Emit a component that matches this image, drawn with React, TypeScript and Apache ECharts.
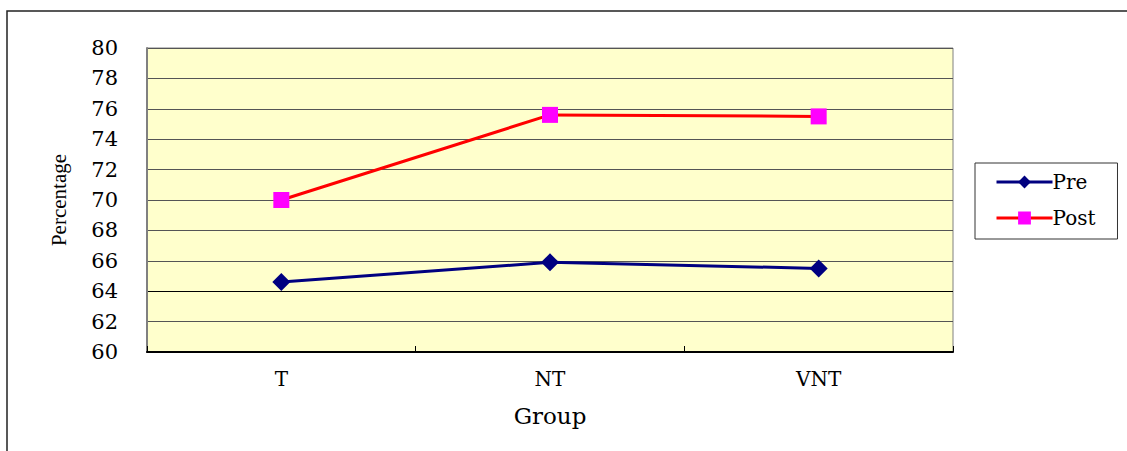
import React, { useEffect, useRef } from "react";
import * as echarts from "echarts";

const categories = ["T", "NT", "VNT"];
const preValues = [64.6, 65.9, 65.5];
const postValues = [70.0, 75.6, 75.5];
const yTicks = [60, 62, 64, 66, 68, 70, 72, 74, 76, 78, 80];

const SERIF_WIDE = "DejaVu Serif";
const SERIF = "Liberation Serif";

export default function App() {
  const ref = useRef<HTMLDivElement>(null);
  useEffect(() => {
    if (!ref.current) return;
    const chart = echarts.init(ref.current, null, { renderer: "svg" });
    const gridColors = yTicks.map((v) => (v === 64 ? "#000000" : "#555555"));
    chart.setOption({
      animation: false,
      backgroundColor: "#ffffff",
      textStyle: { fontFamily: SERIF_WIDE },
      graphic: [
        {
          type: "rect",
          shape: { x: 7, y: 11, width: 1200, height: 500 },
          style: { fill: "none", stroke: "#222", lineWidth: 1.5 },
          silent: true,
        },
      ],
      grid: {
        left: 147,
        top: 48,
        width: 806,
        height: 304,
        show: true,
        backgroundColor: "#FFFFCC",
        borderColor: "#808080",
        borderWidth: 1,
      },
      legend: {
        data: ["Pre", "Post"],
        orient: "vertical",
        left: 975,
        top: 163,
        padding: [9, 22, 11, 20],
        itemGap: 16,
        itemWidth: 56,
        itemHeight: 16,
        borderColor: "#333",
        borderWidth: 1,
        lineStyle: { width: 3 },
        textStyle: { fontFamily: SERIF_WIDE, fontSize: 20, color: "#000", padding: [0, 0, 0, -5] },
      },
      xAxis: {
        type: "category",
        data: categories,
        boundaryGap: true,
        name: "Group",
        nameLocation: "middle",
        nameGap: 52,
        nameTextStyle: { fontFamily: SERIF_WIDE, fontSize: 23, color: "#000" },
        axisLine: { show: true, lineStyle: { color: "#000", width: 2 } },
        axisTick: { show: true, inside: true, length: 6, lineStyle: { color: "#000" } },
        axisLabel: { fontFamily: SERIF_WIDE, fontSize: 20, color: "#000", margin: 17 },
        splitLine: { show: false },
      },
      yAxis: {
        type: "value",
        min: 60,
        max: 80,
        interval: 2,
        name: "Percentage",
        nameLocation: "middle",
        nameGap: 78,
        nameRotate: 90,
        nameTextStyle: { fontFamily: SERIF, fontSize: 21, color: "#000" },
        axisLine: { show: true, lineStyle: { color: "#808080", width: 2 } },
        axisTick: { show: false },
        axisLabel: { fontFamily: SERIF_WIDE, fontSize: 21, color: "#000", margin: 29 },
        splitLine: { show: true, lineStyle: { color: gridColors, width: 1 } },
      },
      series: [
        {
          name: "Pre",
          type: "line",
          data: preValues,
          symbol: "diamond",
          symbolSize: 18,
          lineStyle: { color: "#000080", width: 3 },
          itemStyle: { color: "#000080" },
          z: 3,
        },
        {
          name: "Post",
          type: "line",
          data: postValues,
          symbol: "rect",
          symbolSize: 16,
          lineStyle: { color: "#FF0000", width: 3 },
          itemStyle: { color: "#FF00FF" },
          z: 3,
        },
      ],
    });
    return () => chart.dispose();
  }, []);
  return (
    <div
      ref={ref}
      style={{ position: "fixed", left: 0, top: 0, width: 1127, height: 451 }}
    />
  );
}
